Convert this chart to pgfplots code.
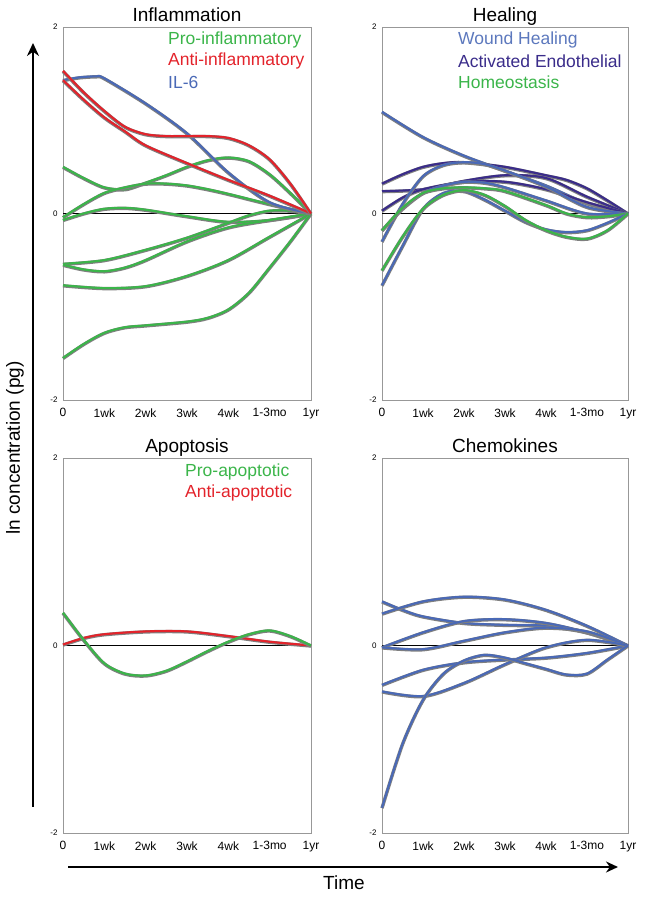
\documentclass[border=0pt]{standalone}
\usepackage{fontspec}
\setmainfont{Liberation Sans}
\usepackage{pgfplots}
\pgfplotsset{compat=1.18}
\usetikzlibrary{arrows.meta}
\definecolor{cgreen}{HTML}{3BB54A}
\definecolor{cred}{HTML}{E3232B}
\definecolor{cblue}{HTML}{4A69B6}
\definecolor{cpurple}{HTML}{3A2C8A}
\definecolor{cgray}{HTML}{7F7F7F}
\newcommand{\dl}[2]{%
  \addplot[cgray, line width=3.4pt, smooth, yshift=-0.5pt] coordinates {#2};
  \addplot[#1, line width=2.1pt, smooth] coordinates {#2};
}
\pgfplotsset{
  panel/.style={
    scale only axis, clip=false,
    xmin=0, xmax=6, ymin=-2, ymax=2,
    xtick={0,1,2,3,4,5,6},
    xticklabels={0,1wk,2wk,3wk,4wk,1-3mo,1yr},
    ytick={-2,0,2}, yticklabels={-2,0,2},
    major tick length=0pt,
    axis line style={cgray!80, line width=0.6pt},
    xticklabel style={font=\fontsize{12}{12}\selectfont, yshift=-5pt},
    yticklabel style={font=\fontsize{8}{8}\selectfont, xshift=-2pt},
    title style={at={(0.5,1)}, anchor=base, yshift=-0.5pt, font=\fontsize{19}{21}\selectfont},
  }
}
\begin{document}
\begin{tikzpicture}
\useasboundingbox (0,0) rectangle (645pt,900pt);
% ---------------- Inflammation
\begin{axis}[panel, at={(63pt,500pt)}, anchor=south west, width=248pt, height=373pt, title={Inflammation}]
\addplot[black, line width=0.5pt] coordinates {(0,0)(6,0)};
\dl{cgreen}{(0,0.5)(0.5,0.38)(1,0.28)(1.5,0.26)(2,0.33)(2.5,0.41)(3,0.5)(3.5,0.57)(4,0.6)(4.5,0.56)(5,0.42)(5.5,0.22)(6,0)}
\dl{cgreen}{(0,-0.04)(0.5,0.1)(1,0.22)(1.5,0.28)(2,0.32)(2.5,0.32)(3,0.3)(3.5,0.26)(4,0.21)(5,0.1)(6,0)}
\dl{cgreen}{(0,-0.07)(0.5,0.0)(1,0.05)(1.5,0.06)(2,0.04)(3,-0.03)(4,-0.09)(5,-0.07)(6,0)}
\dl{cgreen}{(0,-0.54)(1,-0.5)(2,-0.39)(3,-0.26)(4,-0.1)(4.5,-0.02)(5,0.03)(5.5,0.03)(6,0)}
\dl{cgreen}{(0,-0.55)(0.5,-0.6)(1,-0.62)(1.5,-0.58)(2,-0.5)(3,-0.3)(4,-0.15)(5,-0.07)(6,0)}
\dl{cgreen}{(0,-0.77)(1,-0.8)(2,-0.78)(3,-0.67)(4,-0.5)(5,-0.25)(6,0)}
\dl{cgreen}{(0,-1.55)(0.5,-1.4)(1,-1.28)(1.5,-1.22)(2,-1.2)(3,-1.16)(3.5,-1.12)(4,-1.03)(4.5,-0.85)(5,-0.58)(5.5,-0.3)(6,0)}
\dl{cblue}{(0,1.43)(0.4,1.46)(0.8,1.47)(1,1.45)(2,1.18)(3,0.86)(4,0.44)(5,0.12)(6,0)}
\dl{cred}{(0,1.43)(0.5,1.22)(1,1.03)(1.5,0.88)(2,0.73)(3,0.54)(4,0.36)(5,0.19)(6,0)}
\dl{cred}{(0,1.53)(0.5,1.3)(1,1.1)(1.5,0.93)(2,0.85)(2.5,0.83)(3,0.83)(3.5,0.83)(4,0.81)(4.5,0.73)(5,0.58)(5.5,0.32)(6,0)}
\end{axis}
% ---------------- Healing
\begin{axis}[panel, at={(382pt,500pt)}, anchor=south west, width=246pt, height=373pt, title={Healing}]
\addplot[black, line width=0.5pt] coordinates {(0,0)(6,0)};
\dl{cblue}{(0,1.09)(1,0.82)(2,0.62)(3,0.46)(4,0.3)(5,0.11)(6,0)}
\dl{cpurple}{(0,0.32)(0.5,0.42)(1,0.5)(1.5,0.54)(2,0.55)(3,0.5)(4,0.41)(4.5,0.36)(5,0.27)(5.5,0.14)(6,0)}
\dl{cpurple}{(0,0.24)(1,0.26)(2,0.35)(3,0.41)(4,0.38)(5,0.18)(6,0)}
\dl{cpurple}{(0,0.03)(0.5,0.17)(1,0.26)(2,0.34)(3,0.34)(4,0.26)(5,0.12)(6,0)}
\dl{cblue}{(0,-0.3)(0.5,0.1)(1,0.4)(1.5,0.52)(2,0.55)(2.5,0.53)(3,0.46)(4,0.29)(5,0.07)(6,0)}
\dl{cblue}{(0,-0.18)(0.5,0.05)(1,0.22)(1.5,0.3)(2,0.34)(2.5,0.33)(3,0.28)(4,0.14)(5,0.0)(6,0)}
\dl{cgreen}{(0,-0.18)(0.5,0.06)(1,0.22)(1.5,0.27)(2,0.28)(2.5,0.27)(3,0.24)(4,0.09)(4.5,0.0)(5,-0.04)(5.5,-0.03)(6,0)}
\dl{cblue}{(0,-0.77)(0.5,-0.35)(1,0.05)(1.5,0.22)(2,0.24)(2.5,0.15)(3,0.03)(3.5,-0.09)(4,-0.17)(4.5,-0.2)(5,-0.18)(5.5,-0.1)(6,0)}
\dl{cgreen}{(0,-0.61)(0.5,-0.25)(1,0.05)(1.5,0.2)(2,0.25)(2.5,0.2)(3,0.08)(3.5,-0.07)(4,-0.18)(4.5,-0.25)(5,-0.27)(5.5,-0.18)(6,0)}
\end{axis}
% ---------------- Apoptosis
\begin{axis}[panel, at={(63pt,67pt)}, anchor=south west, width=248pt, height=375pt, title={Apoptosis}]
\addplot[black, line width=0.5pt] coordinates {(0,0)(6,0)};
\dl{cred}{(0,0.01)(0.5,0.08)(1,0.12)(2,0.15)(3,0.15)(4,0.1)(5,0.04)(6,0)}
\dl{cgreen}{(0,0.35)(0.5,0.06)(1,-0.19)(1.5,-0.3)(2,-0.32)(2.5,-0.27)(3,-0.17)(3.5,-0.06)(4,0.04)(4.5,0.12)(5,0.16)(5.5,0.1)(6,0)}
\end{axis}
% ---------------- Chemokines
\begin{axis}[panel, at={(382pt,67pt)}, anchor=south west, width=246pt, height=375pt, title={Chemokines}]
\addplot[black, line width=0.5pt] coordinates {(0,0)(6,0)};
\dl{cblue}{(0,0.47)(0.5,0.38)(1,0.31)(2,0.24)(3,0.22)(4,0.21)(5,0.14)(6,0)}
\dl{cblue}{(0,0.34)(1,0.47)(2,0.52)(3,0.49)(4,0.38)(5,0.21)(6,0)}
\dl{cblue}{(0,-0.02)(1,0.14)(2,0.26)(3,0.28)(4,0.24)(5,0.14)(6,0)}
\dl{cblue}{(0,-0.02)(1,-0.04)(2,0.05)(3,0.14)(4,0.19)(5,0.15)(6,0)}
\dl{cblue}{(0,-0.42)(1,-0.26)(2,-0.18)(3,-0.15)(4,-0.13)(5,-0.08)(6,0)}
\dl{cblue}{(0,-0.49)(1,-0.54)(2,-0.4)(3,-0.2)(4,-0.02)(5,0.06)(6,0)}
\dl{cblue}{(0,-1.73)(0.5,-1.05)(1,-0.58)(1.5,-0.3)(2,-0.16)(2.5,-0.1)(3,-0.13)(3.5,-0.19)(4,-0.25)(4.5,-0.31)(5,-0.3)(5.5,-0.15)(6,0)}
\end{axis}
% ---------------- legends
\begin{scope}[every node/.style={anchor=west, inner sep=0pt, font=\fontsize{17.5}{19}\selectfont}]
\node[text=cgreen] at (168pt,860pt) {Pro-inflammatory};
\node[text=cred] at (168pt,839pt) {Anti-inflammatory};
\node[text=cblue] at (168pt,818pt) {IL-6};
\node[text=cblue!90!white] at (458pt,860pt) {Wound Healing};
\node[text=cpurple] at (458pt,839pt) {Activated Endothelial};
\node[text=cgreen] at (458pt,818pt) {Homeostasis};
\node[text=cgreen] at (185pt,428pt) {Pro-apoptotic};
\node[text=cred] at (185pt,407pt) {Anti-apoptotic};
\end{scope}
% ---------------- big arrows
\draw[line width=2pt, -{Stealth[length=13pt,width=12pt]}] (33pt,93pt) -- (33pt,857pt);
\draw[line width=2pt, -{Stealth[length=12pt,width=11pt]}] (68pt,33pt) -- (618pt,33pt);
\node[rotate=90, font=\fontsize{19}{21}\selectfont] at (15pt,452pt) {ln concentration (pg)};
\node[font=\fontsize{19}{21}\selectfont] at (344pt,17pt) {Time};
\end{tikzpicture}
\end{document}
